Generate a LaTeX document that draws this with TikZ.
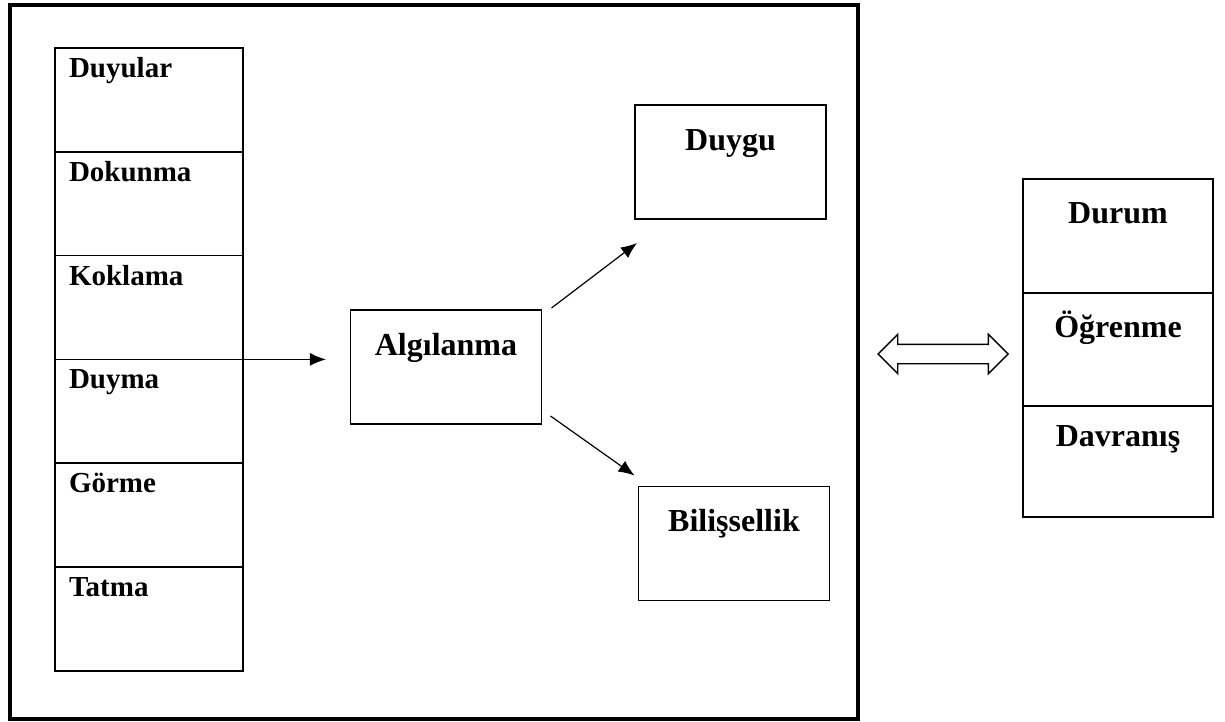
\documentclass[tikz,border=0pt]{standalone}
\usepackage{fontspec}
\setmainfont{Liberation Serif}
\usepackage{tikz}
\usetikzlibrary{arrows.meta,positioning,shapes.arrows}
\tikzset{
  cellbox/.style={draw,line width=.85pt,outer sep=0pt,minimum width=94pt,inner xsep=7pt,inner ysep=0pt,text width=80pt,align=left,text height=14.7pt,text depth=37.2pt,font=\bfseries\fontsize{14.5}{17}\selectfont},
  mainbox/.style={draw,line width=.7pt,outer sep=0pt,minimum width=95.5pt,inner sep=0pt,align=center,text height=22.5pt,text depth=34.5pt,font=\bfseries\fontsize{16}{19}\selectfont},
  stackbox/.style={mainbox,minimum width=95pt,text height=22pt,text depth=35pt},
  flow/.style={-{Latex[length=8pt,width=6.5pt]},line width=.6pt},
  frameline/.style={line width=1.7pt},
  twoway/.style={double arrow,draw,line width=.7pt,fill=white,minimum height=65pt,inner sep=4.5pt,double arrow head extend=5pt},
}
\begin{document}
\begin{tikzpicture}[x=0.5pt,y=-0.5pt]
  \useasboundingbox (0,0) rectangle (1225,722);
  \draw[frameline] (10,5) rectangle (858,719);

  % senses column
  \node[cellbox,anchor=north west] (duyular) at (55,48) {Duyular};
  \node[cellbox,below=0pt of duyular] (dokunma) {Dokunma};
  \node[cellbox,below=0pt of dokunma] (koklama) {Koklama};
  \node[cellbox,below=0pt of koklama] (duyma) {Duyma};
  \node[cellbox,below=0pt of duyma] (gorme) {Görme};
  \node[cellbox,below=0pt of gorme] (tatma) {Tatma};

  \node[mainbox] (algi) at (446,367) {Algılanma};
  \node[mainbox] (duygu) at (730.5,162) {Duygu};
  \node[mainbox] (biliss) at (734,543.5) {Bilişsellik};

  \draw[flow,shorten >=12.3pt] (duyma.north east) -- (duyma.north east -| algi.west);
  \draw[flow] ([shift={(5pt,1pt)}]algi.north east) -- ([shift={(1pt,-12pt)}]duygu.south west);
  \draw[flow] ([shift={(4.5pt,4pt)}]algi.south east) -- ([shift={(-2pt,5.5pt)}]biliss.north west);

  % right stack
  \node[stackbox,anchor=north west] (durum) at (1023,179) {Durum};
  \node[stackbox,below=0pt of durum,text depth=34.5pt] (ogrenme) {Öğrenme};
  \node[stackbox,below=0pt of ogrenme,text height=20pt,text depth=35.5pt] (davranis) {Davranış};

  \node[twoway] (link) at (943,354) {};
\end{tikzpicture}
\end{document}
